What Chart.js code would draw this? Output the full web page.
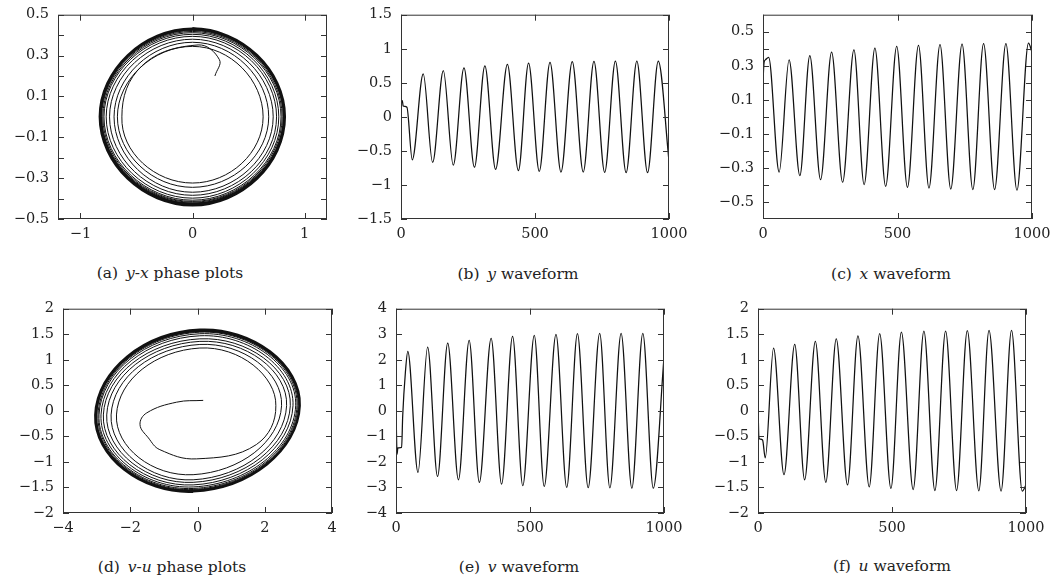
<!DOCTYPE html>
<html>
<head>
<meta charset="utf-8">
<script src="https://cdn.jsdelivr.net/npm/chart.js@4.4.0/dist/chart.umd.min.js"></script>
<style>
  body { margin: 0; background: #fff; width: 1055px; height: 582px; position: relative; overflow: hidden; font-family: "DejaVu Serif", serif; }
  canvas { position: absolute; }
  .cap { position: absolute; transform: translateX(-50%); white-space: nowrap; font-size: 15.5px; line-height: 20px; color: #222; }
</style>
</head>
<body>
<canvas id="pa"></canvas>
<canvas id="pb"></canvas>
<canvas id="pc"></canvas>
<canvas id="pd"></canvas>
<canvas id="pe"></canvas>
<canvas id="pf"></canvas>
<div class="cap" style="left:170px;top:263px">(a)&ensp;<i>y</i>-<i>x</i> phase plots</div>
<div class="cap" style="left:518px;top:264px">(b)&ensp;<i>y</i> waveform</div>
<div class="cap" style="left:891px;top:264px">(c)&ensp;<i>x</i> waveform</div>
<div class="cap" style="left:172px;top:557px">(d)&ensp;<i>v</i>-<i>u</i> phase plots</div>
<div class="cap" style="left:519px;top:557px">(e)&ensp;<i>v</i> waveform</div>
<div class="cap" style="left:892px;top:556px">(f)&ensp;<i>u</i> waveform</div>
<script>
// --- waveforms: extrema (time, value) ---
const yT = [0, 5, 8, 22, 42, 83, 118, 158, 195, 235, 274, 313, 353, 397, 438, 476, 516, 556, 597, 639, 680, 720, 760, 800, 840, 880, 920, 960, 1000];
const yV = [0.24, 0.24, 0.16, 0.14, -0.63, 0.63, -0.67, 0.68, -0.71, 0.72, -0.74, 0.75, -0.77, 0.77, -0.79, 0.79, -0.80, 0.80, -0.81, 0.81, -0.81, 0.815, -0.815, 0.82, -0.82, 0.82, -0.82, 0.82, -0.65];

const xT = [0, 4, 9, 21, 60, 97, 137, 174, 214, 255, 296, 338, 376, 416, 456, 497, 537, 578, 617, 658, 698, 740, 780, 820, 861, 903, 944, 987, 1000];
const xV = [0.21, 0.32, 0.335, 0.35, -0.324, 0.335, -0.345, 0.36, -0.369, 0.38, -0.384, 0.394, -0.398, 0.404, -0.408, 0.414, -0.414, 0.42, -0.418, 0.424, -0.424, 0.427, -0.427, 0.43, -0.427, 0.43, -0.431, 0.433, 0.38];

const vT = [0, 2, 4, 7, 21, 25, 35, 44, 82, 118, 155, 193, 233, 273, 311, 355, 394, 435, 473, 516, 553, 597, 637, 677, 717, 760, 798, 840, 880, 921, 960, 1000];
const vV = [0.2, -1.0, -1.7, -1.45, -1.43, -0.2, 1.5, 2.33, -2.41, 2.5, -2.57, 2.65, -2.70, 2.76, -2.80, 2.84, -2.87, 2.92, -2.93, 2.96, -2.96, 2.99, -3.0, 3.02, -3.01, 3.03, -3.02, 3.03, -3.03, 3.03, -3.03, 2.1];

const uT = [0, 3, 6, 17, 27, 58, 97, 137, 174, 214, 253, 292, 334, 373, 415, 454, 496, 535, 579, 619, 660, 700, 741, 781, 824, 862, 907, 946, 986, 1000];
const uV = [0.2, -0.5, -0.55, -0.57, -0.92, 1.23, -1.25, 1.30, -1.35, 1.36, -1.40, 1.41, -1.45, 1.47, -1.49, 1.51, -1.52, 1.54, -1.54, 1.56, -1.56, 1.56, -1.56, 1.57, -1.565, 1.575, -1.57, 1.575, -1.57, -1.45];

// --- phase plots: start curl (last point only steers the curve) + loop extents ---
const yxCurl = [[0.2, 0.2], [0.24, 0.28], [0.05, 0.352], [-0.45, 0.25], [-0.63, 0], [-0.45, -0.25]];
const yxLead = [0.05, 0.352];
const yxLeft = [-0.63, -0.67, -0.70, -0.74, -0.77, -0.79, -0.80, -0.81, -0.815, -0.82, -0.82, -0.825, -0.828, -0.83];
const yxBottom = [-0.324, -0.345, -0.369, -0.384, -0.398, -0.408, -0.414, -0.418, -0.424, -0.427, -0.428, -0.431, -0.433, -0.435];
const yxRight = [0.63, 0.68, 0.72, 0.75, 0.77, 0.79, 0.80, 0.81, 0.815, 0.82, 0.82, 0.822, 0.825, 0.827];
const yxTop = [0.345, 0.365, 0.38, 0.394, 0.404, 0.412, 0.418, 0.423, 0.427, 0.43, 0.431, 0.432, 0.433, 0.434];

const vuCurl = [[0.17, 0.205], [-0.62, 0.17], [-1.51, -0.04], [-1.71, -0.27], [-1.46, -0.53], [-1.12, -0.76], [-0.03, -0.94], [1.75, -0.66], [2.33, 0.1], [1.7, 0.87]];
const vuLead = [-0.03, -0.94];
const vuRight = [2.33, 2.5, 2.65, 2.76, 2.84, 2.92, 2.96, 2.99, 3.02, 3.03, 3.03, 3.03, 3.04, 3.05];
const vuTop = [1.23, 1.30, 1.36, 1.41, 1.47, 1.51, 1.54, 1.56, 1.56, 1.57, 1.575, 1.575, 1.585, 1.595];
const vuLeft = [-2.41, -2.57, -2.70, -2.80, -2.87, -2.93, -2.96, -3.0, -3.01, -3.02, -3.03, -3.03, -3.04, -3.05];
const vuBottom = [-1.25, -1.35, -1.40, -1.45, -1.49, -1.52, -1.54, -1.56, -1.56, -1.565, -1.57, -1.57, -1.58, -1.59];
const vuTilt = { right: 0.1, top: 0.07, left: -0.08, bottom: -0.13 }; // the v-u ellipse leans a little

// --- tick marks and tick labels ---
const tenths = [-0.5, -0.4, -0.3, -0.2, -0.1, 0, 0.1, 0.2, 0.3, 0.4, 0.5];
const oddTenths = [-0.5, -0.3, -0.1, 0.1, 0.3, 0.5];
const halves15 = [-1.5, -1, -0.5, 0, 0.5, 1, 1.5];
const halves2 = [-2, -1.5, -1, -0.5, 0, 0.5, 1, 1.5, 2];
const ones4 = [-4, -3, -2, -1, 0, 1, 2, 3, 4];
const timeTicks = [0, 500, 1000];
const yxHTicks = [-1, 0, 1];
const vuHTicks = [-4, -2, 0, 2, 4];

function wave(ts, vs) {
  return ts.map((t, i) => ({ x: t, y: vs[i] }));
}

function pairs(list) {
  return list.map(p => ({ x: p[0], y: p[1] }));
}

// lead point, then the loops side by side, then the first side once more so the last arc bends right
function spiral(lead, order, tilt) {
  const pts = [{ x: lead[0], y: lead[1] }];
  const n = order[0][1].length;
  const put = (side, v) => {
    const off = tilt[side] || 0;
    if (side === 'left' || side === 'right') pts.push({ x: v, y: off });
    else pts.push({ x: off, y: v });
  };
  for (let k = 0; k < n; k++) order.forEach(([side, arr]) => put(side, arr[k]));
  put(order[0][0], order[0][1][n - 1]);
  return pts;
}

// steering points stay in the data, their segments are drawn clear
const clear = 'rgba(0,0,0,0)';
const hideEnds = n => ({
  borderColor: c => (c.p0DataIndex === 0 || c.p0DataIndex === n - 2 ? clear : undefined),
  borderWidth: c => (c.p0DataIndex >= 33 ? 1.7 : undefined)   // outer loops pile up into a dark band
});
const hideLast = n => ({ borderColor: c => (c.p0DataIndex === n - 2 ? clear : undefined) });

const fmt = v => (Math.round(v * 100) / 100).toString().replace('-', '\u2212');

const frame = {
  id: 'frame',
  afterDatasetsDraw(chart, args, opts) {
    const { ctx, chartArea: a, scales: { x, y } } = chart;
    const L = 6;
    ctx.save();
    ctx.strokeStyle = '#333';
    ctx.lineWidth = 1;
    ctx.strokeRect(a.left + 0.5, a.top + 0.5, a.right - a.left - 1, a.bottom - a.top - 1);
    ctx.beginPath();
    opts.xMarks.forEach(v => {
      const px = Math.round(x.getPixelForValue(v)) + 0.5;
      ctx.moveTo(px, a.bottom); ctx.lineTo(px, a.bottom - L);
      ctx.moveTo(px, a.top); ctx.lineTo(px, a.top + L);
    });
    opts.yMarks.forEach(v => {
      const py = Math.round(y.getPixelForValue(v)) + 0.5;
      ctx.moveTo(a.left, py); ctx.lineTo(a.left + L, py);
      ctx.moveTo(a.right, py); ctx.lineTo(a.right - L, py);
    });
    ctx.stroke();
    ctx.restore();
  }
};

function axis(pos, min, max, labels) {
  return {
    type: 'linear', position: pos, min, max,
    grid: { display: false, drawTicks: false },
    border: { display: false },
    ticks: {
      color: '#222', font: { family: 'DejaVu Serif', size: 14.5 },
      padding: pos === 'left' ? 9 : 7, autoSkip: false, maxRotation: 0,
      callback: v => fmt(v)
    },
    afterBuildTicks: s => { s.ticks = labels.map(v => ({ value: v })); },
    afterFit: s => { if (pos === 'left') s.width = 56; else s.height = 30; }
  };
}

const base = { showLine: true, borderColor: '#111', pointRadius: 0, fill: false };

function panel(id, box, xr, yr, sets) {
  const [L, T, R, B] = box.map(Math.round);
  const cv = document.getElementById(id);
  // the y axis keeps half a label plus its padding (about 18px) above the plot
  cv.width = R - L + 56 + 30;
  cv.height = B - T + 18 + 30;
  cv.style.left = (L - 56) + 'px';
  cv.style.top = (T - 18) + 'px';
  new Chart(cv, {
    type: 'scatter',
    data: { datasets: sets.map(s => Object.assign({}, base, s)) },
    options: {
      responsive: false, animation: false, events: [],
      layout: { padding: { top: 0, right: 30, left: 0, bottom: 0 } },
      scales: { x: axis('bottom', xr[0], xr[1], xr[2]), y: axis('left', yr[0], yr[1], yr[2]) },
      plugins: { legend: { display: false }, tooltip: { enabled: false }, frame: { xMarks: xr[3], yMarks: yr[3] } }
    },
    plugins: [frame]
  });
}

const waveSet = (ts, vs) => [{ data: wave(ts, vs), borderWidth: 1.25, cubicInterpolationMode: 'monotone' }];

function phaseSet(curl, loop) {
  return [
    { data: pairs(curl), borderWidth: 1, tension: 0.4, segment: hideLast(curl.length) },
    { data: loop, borderWidth: 1, tension: 0.53, segment: hideEnds(loop.length) }
  ];
}

panel('pa', [58, 14.7, 327, 219], [-1.2, 1.2, yxHTicks, yxHTicks], [-0.5, 0.5, oddTenths, tenths],
  phaseSet(yxCurl, spiral(yxLead, [['left', yxLeft], ['bottom', yxBottom], ['right', yxRight], ['top', yxTop]], {})));
panel('pb', [401, 14.7, 669, 219], [0, 1000, timeTicks, timeTicks], [-1.5, 1.5, halves15, halves15], waveSet(yT, yV));
panel('pc', [763, 14.7, 1032, 219], [0, 1000, timeTicks, timeTicks], [-0.6, 0.6, oddTenths, tenths], waveSet(xT, xV));
panel('pd', [63, 309, 331.5, 513.3], [-4, 4, vuHTicks, vuHTicks], [-2, 2, halves2, halves2],
  phaseSet(vuCurl, spiral(vuLead, [['right', vuRight], ['top', vuTop], ['left', vuLeft], ['bottom', vuBottom]], vuTilt)));
panel('pe', [395.7, 309, 664.3, 513.3], [0, 1000, timeTicks, timeTicks], [-4, 4, ones4, ones4], waveSet(vT, vV));
panel('pf', [758.3, 309, 1026, 513.3], [0, 1000, timeTicks, timeTicks], [-2, 2, halves2, halves2], waveSet(uT, uV));
</script>
</body>
</html>
